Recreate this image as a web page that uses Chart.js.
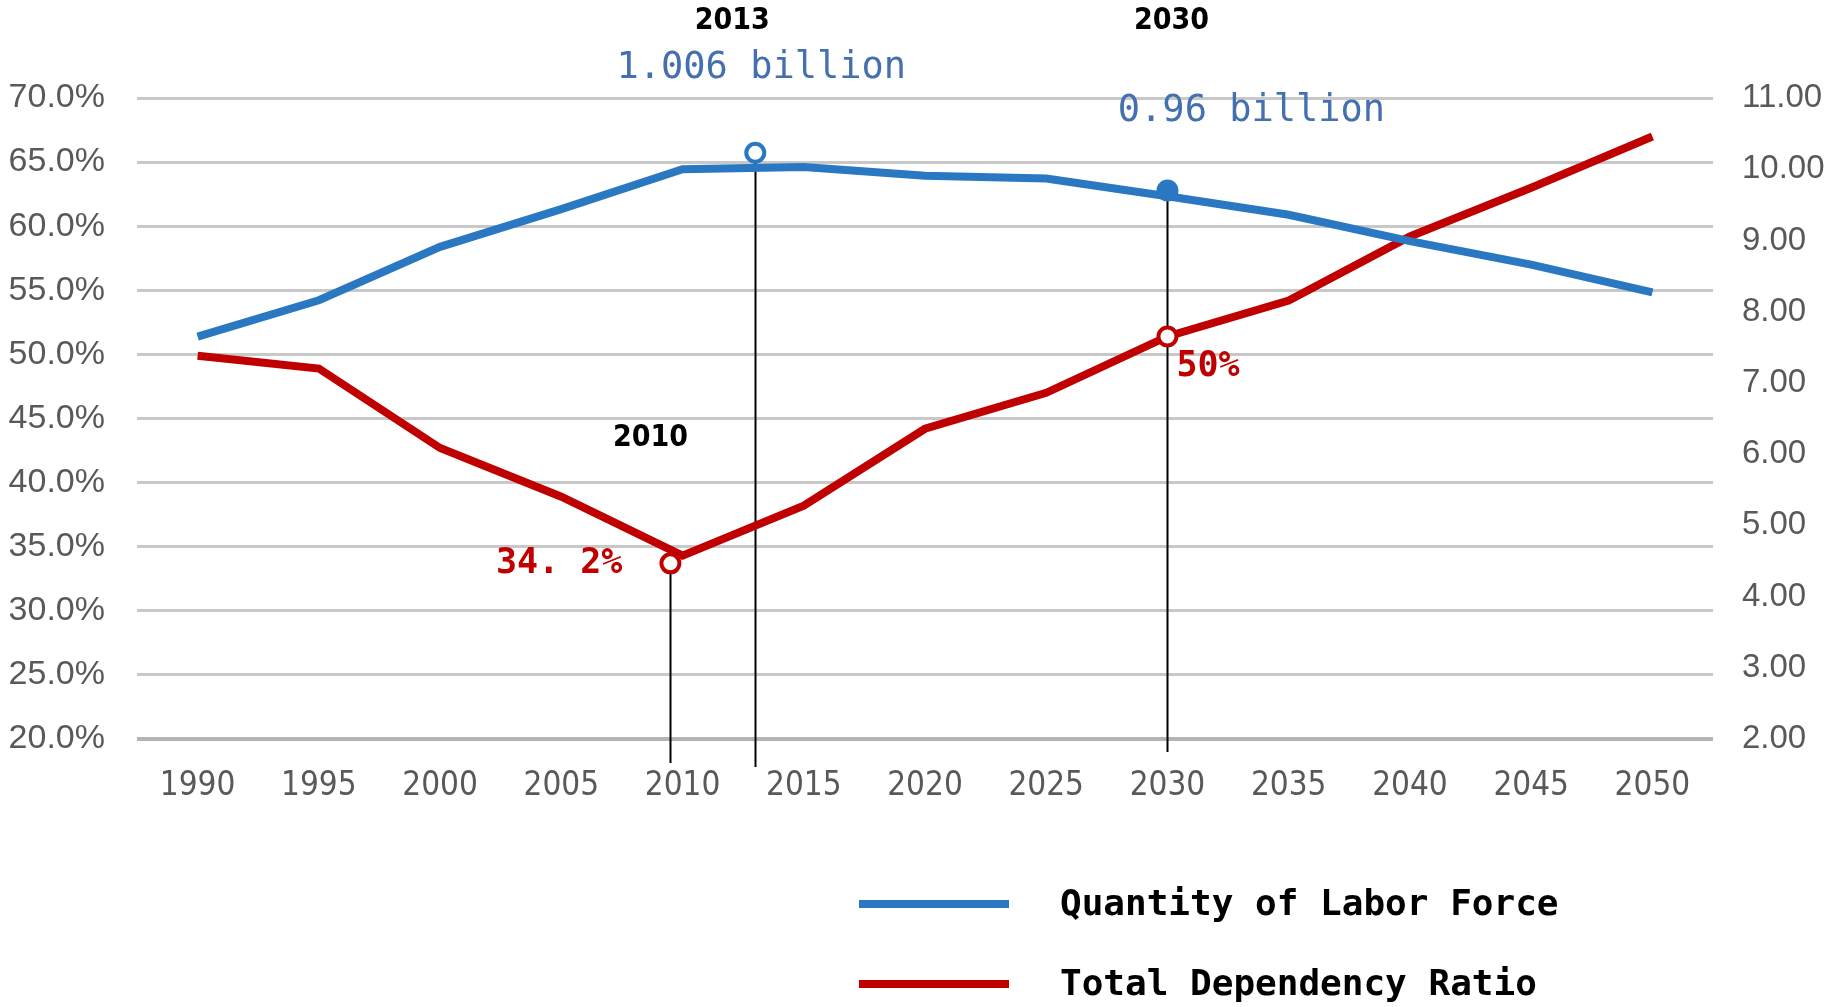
<!DOCTYPE html>
<html>
<head>
<meta charset="utf-8">
<title>Labor Force and Total Dependency Ratio</title>
<script src="https://cdn.jsdelivr.net/npm/chart.js@4.4.1/dist/chart.umd.min.js"></script>
<style>
  html, body { margin: 0; padding: 0; background: #ffffff; }
  #wrap { width: 1837px; height: 1007px; }
</style>
</head>
<body>
<div id="wrap"><canvas id="graficoPoblacion"></canvas></div>
<script>
// Years on the x axis
var years = [1990, 1995, 2000, 2005, 2010, 2015, 2020, 2025, 2030, 2035, 2040, 2045, 2050];

// Quantity of labor force (hundred millions, right axis)
var laborForce = [7.65, 8.16, 8.91, 9.44, 10.00, 10.03, 9.91, 9.87, 9.62, 9.36, 8.99, 8.66, 8.27];

// Total dependency ratio (%, left axis)
var dependencyRatio = [49.9, 48.9, 42.7, 38.9, 34.3, 38.2, 44.2, 47.0, 51.4, 54.2, 59.2, 63.0, 67.0];

// Tick values
var leftTicks = [20, 25, 30, 35, 40, 45, 50, 55, 60, 65, 70];
var rightTicks = [2, 3, 4, 5, 6, 7, 8, 9, 10, 11];

// Highlighted points
var laborMarkYears = [2013, 2030];
var laborMarkValues = [10.23, 9.70];
var ratioMarkYears = [2009.5, 2030];
var ratioMarkValues = [33.7, 51.4];

var BLUE = '#2a78c2';
var RED = '#c00000';
var MONO = '"DejaVu Sans Mono", "Liberation Mono", monospace';
var NARROW = '"DejaVu Sans Condensed", "Liberation Sans Narrow", "Liberation Sans", sans-serif';

function toPoints(xs, ys) {
    return xs.map(function(x, i) { return { x: x, y: ys[i] }; });
}

document.addEventListener("DOMContentLoaded", function() {
    var ctx = document.getElementById('graficoPoblacion').getContext('2d');

    // Vertical guide lines, value labels and the two-row legend
    var annotations = {
        id: 'annotations',
        beforeDatasetsDraw: function(chart) {
            var c = chart.ctx;
            var x = chart.scales.x;
            var bottom = chart.chartArea.bottom;
            var guides = [
                { year: laborMarkYears[0], px: chart.scales.yRight.getPixelForValue(laborMarkValues[0]), ext: 28 },
                { year: laborMarkYears[1], px: chart.scales.yRight.getPixelForValue(laborMarkValues[1]), ext: 13 },
                { year: ratioMarkYears[0], px: chart.scales.yLeft.getPixelForValue(ratioMarkValues[0]), ext: 24 }
            ];
            c.save();
            c.strokeStyle = '#000000';
            c.lineWidth = 2;
            guides.forEach(function(g) {
                var gx = Math.round(x.getPixelForValue(g.year)) + 0.5;
                c.beginPath();
                c.moveTo(gx, g.px);
                c.lineTo(gx, bottom + g.ext);
                c.stroke();
            });
            c.restore();
        },
        afterDraw: function(chart) {
            var c = chart.ctx;
            var x = chart.scales.x;
            var notes = [
                { text: '2013', year: 2013, dx: -23, y: 21, color: '#000000', font: 'bold 30px ' + NARROW, align: 'center' },
                { text: '2030', year: 2030, dx: 4, y: 21, color: '#000000', font: 'bold 30px ' + NARROW, align: 'center' },
                { text: '2010', year: 2010, dx: -32, y: 438, color: '#000000', font: 'bold 30px ' + NARROW, align: 'center' },
                { text: '1.006 billion', year: 2013, dx: 6, y: 68, color: '#4470b0', font: '37px ' + MONO, align: 'center' },
                { text: '0.96 billion', year: 2030, dx: 84, y: 111, color: '#4470b0', font: '37px ' + MONO, align: 'center' },
                { text: '34. 2%', year: 2009.5, dx: -48, y: 564, color: RED, font: 'bold 35px ' + MONO, align: 'right' },
                { text: '50%', year: 2030, dx: 9, y: 367, color: RED, font: 'bold 35px ' + MONO, align: 'left' }
            ];
            c.save();
            c.textBaseline = 'middle';
            notes.forEach(function(n) {
                c.font = n.font;
                c.fillStyle = n.color;
                c.textAlign = n.align;
                c.fillText(n.text, x.getPixelForValue(n.year) + n.dx, n.y);
            });

            // legend
            var rows = [chart.data.datasets[2], chart.data.datasets[3]];
            var rowY = [904, 984];
            rows.forEach(function(ds, i) {
                c.fillStyle = ds.borderColor;
                c.fillRect(859, rowY[i] - 4, 150, 8);
                c.fillStyle = '#000000';
                c.textAlign = 'left';
                c.font = 'bold 36px ' + MONO;
                c.fillText(ds.label, 1060, rowY[i] + 2);
            });
            c.restore();
        }
    };

    var data = {
        datasets: [
            {
                label: 'Labor marks',
                data: toPoints(laborMarkYears, laborMarkValues),
                yAxisID: 'yRight',
                showLine: false,
                pointRadius: 9,
                pointBorderWidth: 4,
                pointBorderColor: BLUE,
                pointBackgroundColor: ['#ffffff', BLUE],
                clip: false
            },
            {
                label: 'Ratio marks',
                data: toPoints(ratioMarkYears, ratioMarkValues),
                yAxisID: 'yLeft',
                showLine: false,
                pointRadius: 9,
                pointBorderWidth: 4,
                pointBorderColor: RED,
                pointBackgroundColor: '#ffffff',
                clip: false
            },
            {
                label: 'Quantity of Labor Force',
                data: toPoints(years, laborForce),
                yAxisID: 'yRight',
                borderColor: BLUE,
                backgroundColor: BLUE,
                borderWidth: 8,
                pointRadius: 0,
                tension: 0
            },
            {
                label: 'Total Dependency Ratio',
                data: toPoints(years, dependencyRatio),
                yAxisID: 'yLeft',
                borderColor: RED,
                backgroundColor: RED,
                borderWidth: 8,
                pointRadius: 0,
                tension: 0
            }
        ]
    };

    var options = {
        responsive: true,
        maintainAspectRatio: false,
        animation: false,
        layout: { padding: { top: 98, left: 0, right: 0, bottom: 0 } },
        plugins: {
            legend: { display: false },
            tooltip: { enabled: false }
        },
        scales: {
            x: {
                type: 'linear',
                min: 1987.5,
                max: 2052.5,
                afterBuildTicks: function(axis) {
                    axis.ticks = years.map(function(v) { return { value: v }; });
                },
                afterFit: function(axis) { axis.height = 268; },
                grid: { display: false, drawTicks: false },
                border: { display: false },
                ticks: {
                    padding: 28,
                    color: '#595959',
                    font: { family: NARROW, size: 33 },
                    maxRotation: 0,
                    autoSkip: false,
                    callback: function(v) { return String(v); }
                }
            },
            yLeft: {
                position: 'left',
                min: 20,
                max: 70,
                afterBuildTicks: function(axis) {
                    axis.ticks = leftTicks.map(function(v) { return { value: v }; });
                },
                afterFit: function(axis) { axis.width = 137; },
                grid: {
                    drawTicks: false,
                    color: function(c) { return c.index === 0 ? '#b4b4b4' : '#c8c8c8'; },
                    lineWidth: function(c) { return c.index === 0 ? 4 : 3; }
                },
                border: { display: false },
                ticks: {
                    padding: 32,
                    color: '#595959',
                    font: { family: '"Liberation Sans", Arial, sans-serif', size: 34 },
                    callback: function(v) { return v.toFixed(1) + '%'; }
                }
            },
            yRight: {
                position: 'right',
                min: 2,
                max: 11,
                afterBuildTicks: function(axis) {
                    axis.ticks = rightTicks.map(function(v) { return { value: v }; });
                },
                afterFit: function(axis) { axis.width = 124; },
                grid: { display: false, drawTicks: false },
                border: { display: false },
                ticks: {
                    padding: 29,
                    color: '#595959',
                    font: { family: '"Liberation Sans", Arial, sans-serif', size: 33 },
                    callback: function(v) { return v.toFixed(2); }
                }
            }
        }
    };

    var grafico = new Chart(ctx, {
        type: 'line',
        data: data,
        options: options,
        plugins: [annotations]
    });
});
</script>
</body>
</html>
